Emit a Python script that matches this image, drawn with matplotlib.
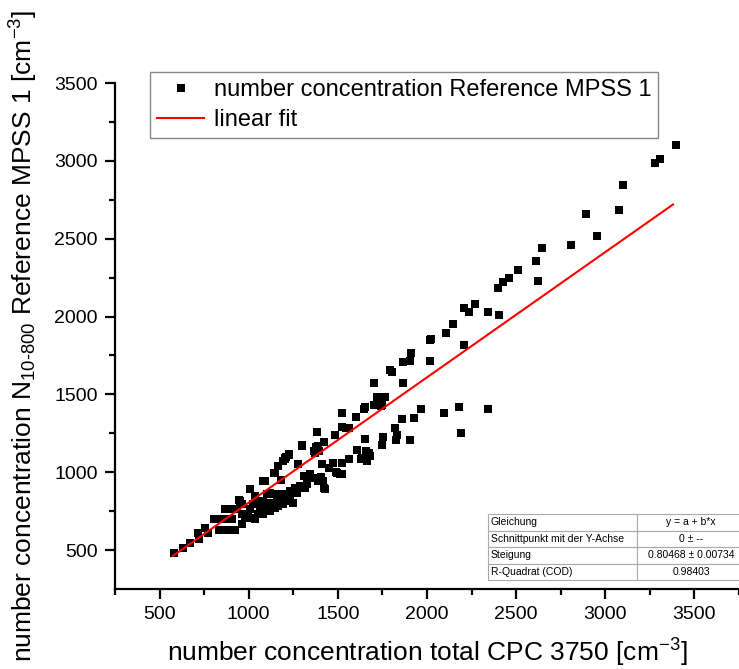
import matplotlib
matplotlib.use("Agg")
import matplotlib.pyplot as plt
import numpy as np

plt.rcParams['font.family'] = ['Liberation Sans', 'DejaVu Sans']
plt.rcParams['mathtext.fontset'] = 'custom'
plt.rcParams['mathtext.rm'] = 'Liberation Sans'
plt.rcParams['mathtext.it'] = 'Liberation Sans'

# CPC 3750 total (x) vs. MPSS N10-800 (y)
cpc = [3394, 3305, 3277, 3098, 3076, 2892, 2953, 2808, 2647, 2613, 2625, 2508,
       2458, 2424, 2396, 2268, 2234, 2207, 2340, 2402, 2207, 2145, 2106, 2017,
       2025, 2017, 1911, 1906, 1866, 1866, 1805, 1790, 1749, 1749, 1705, 1722,
       1744, 1766, 1705, 1744, 1655, 1649,
       1967, 2095, 2179, 2340, 2190, 1928, 1861, 1822, 1833, 1827, 1906, 1755,
       1749, 1655,
       1526, 1599, 1521, 1543, 1560, 1381, 1482, 1421, 1376, 1390, 1365, 1298,
       1225, 1203, 1210, 1164, 1142, 1181, 1092, 1276, 1409, 1471, 1488, 1521,
       1565, 1510, 1526, 1610, 1660, 1671, 1683, 1632, 1649, 1666, 1404, 1381,
       1387, 1421, 1309, 1638, 1677, 1370, 1393, 1493,
       579, 629, 668, 713, 719, 757, 774, 807, 841, 835, 869, 897, 925, 880,
       908, 935, 869, 897, 947, 952, 963, 1008, 1036, 963, 980, 963, 997, 1019,
       1036, 1053, 1064, 1081, 1103, 1120, 1136, 1159, 1025, 1008, 1081, 1064,
       1081, 1103, 1120, 1147, 1164, 1192, 1214, 1231, 1248, 1147, 1164, 1192,
       1203, 1225, 1298, 1259, 1287, 1315, 1326, 1175, 1192, 1214, 1231, 1248,
       1270, 1103, 1120, 1136, 1359, 1398, 1415, 1426, 1326, 1343, 1450]
mpss = [3101, 3010, 2985, 2843, 2682, 2657, 2515, 2457, 2438, 2354, 2226, 2296,
        2245, 2219, 2181, 2078, 2032, 2052, 2032, 2007, 1814, 1955, 1897, 1852,
        1858, 1717, 1769, 1717, 1711, 1576, 1646, 1655, 1485, 1434, 1576, 1485,
        1485, 1485, 1434, 1428, 1421, 1408,
        1408, 1383, 1421, 1408, 1254, 1350, 1344, 1286, 1241, 1209, 1209, 1228,
        1177, 1215,
        1383, 1357, 1292, 1286, 1286, 1260, 1241, 1196, 1164, 1170, 1138, 1170,
        1119, 1087, 1095, 1041, 996, 951, 945, 1054, 1054, 1061, 1003, 1061,
        1087, 990, 990, 1144, 1138, 1119, 1106, 1087, 1093, 1074, 971, 964,
        945, 900, 977, 1093, 1125, 1125, 1138, 996,
        482, 514, 546, 610, 572, 643, 610, 700, 700, 630, 630, 630, 630, 700,
        700, 765, 765, 765, 823, 816, 797, 893, 848, 733, 707, 668, 733, 707,
        700, 733, 797, 816, 803, 797, 803, 816, 797, 765, 945, 752,
        733, 765, 752, 771, 784, 797, 816, 829, 803, 996, 1041, 1074,
        1093, 1112, 1177, 900, 913, 900, 926, 861, 848, 861, 881, 868,
        868, 861, 868, 861, 964, 958, 945, 893, 958, 990, 1030]

fit_x = [575, 3380]
slope = 0.80468

table_rows = [["Gleichung", "y = a + b*x"],
              ["Schnittpunkt mit der Y-Achse", "0 ± --"],
              ["Steigung", "0.80468 ± 0.00734"],
              ["R-Quadrat (COD)", "0.98403"]]

fig = plt.figure(figsize=(7.39, 6.69), dpi=100)
ax = fig.add_axes([115 / 739, 1 - 589 / 669, 1 - 115 / 739, (589 - 83) / 669])

ax.plot(cpc, mpss, linestyle='none', marker='s', ms=5.3, mew=0, color='black',
        label='number concentration Reference MPSS 1')
fx = np.array(fit_x)
ax.plot(fx, slope * fx, color='red', lw=1.5, label='linear fit')

ax.set_xlim(250, 3734)
ax.set_ylim(250, 3500)
ax.set_xticks([500, 1000, 1500, 2000, 2500, 3000, 3500])
ax.set_yticks([500, 1000, 1500, 2000, 2500, 3000, 3500])
ax.set_xticks(np.arange(250, 3751, 500), minor=True)
ax.set_yticks(np.arange(750, 3251, 500), minor=True)
for s in ['top', 'right']:
    ax.spines[s].set_visible(False)
for s in ['left', 'bottom']:
    ax.spines[s].set_linewidth(1.6)
ax.tick_params(which='major', direction='out', length=7, width=1.6, labelsize=14, pad=5.5)
ax.tick_params(which='minor', direction='out', length=4, width=1.6)

ax.set_xlabel('number concentration total CPC 3750 [cm$^{-3}$]', fontsize=19, labelpad=10)
ax.set_ylabel(r'number concentration N$_{10\text{-}800}$ Reference MPSS 1 [cm$^{-3}$]',
              fontsize=19, labelpad=10)

leg = ax.legend(loc='upper left', bbox_to_anchor=(0.056, 1.022), fontsize=17,
                fancybox=False, edgecolor='#888888', framealpha=1,
                handlelength=2.0, borderpad=0.3, labelspacing=0.35,
                handletextpad=0.4, borderaxespad=0)
leg.get_frame().set_linewidth(1.0)

tbl = ax.table(cellText=table_rows, cellLoc='center',
               bbox=[(488 - 115) / 624, (589 - 580) / 506, (745 - 488) / 624, 66 / 506],
               colWidths=[0.58, 0.42])
tbl.auto_set_font_size(False)
tbl.set_fontsize(7.5)
for (r, c), cell in tbl.get_celld().items():
    cell.set_edgecolor('#aaaaaa')
    cell.set_linewidth(0.8)
    if c == 0:
        cell._loc = 'left'
        cell.PAD = 0.02
        cell.get_text().set_horizontalalignment('left')
tbl.set_clip_on(False)

fig.savefig('out.png', dpi=100)
